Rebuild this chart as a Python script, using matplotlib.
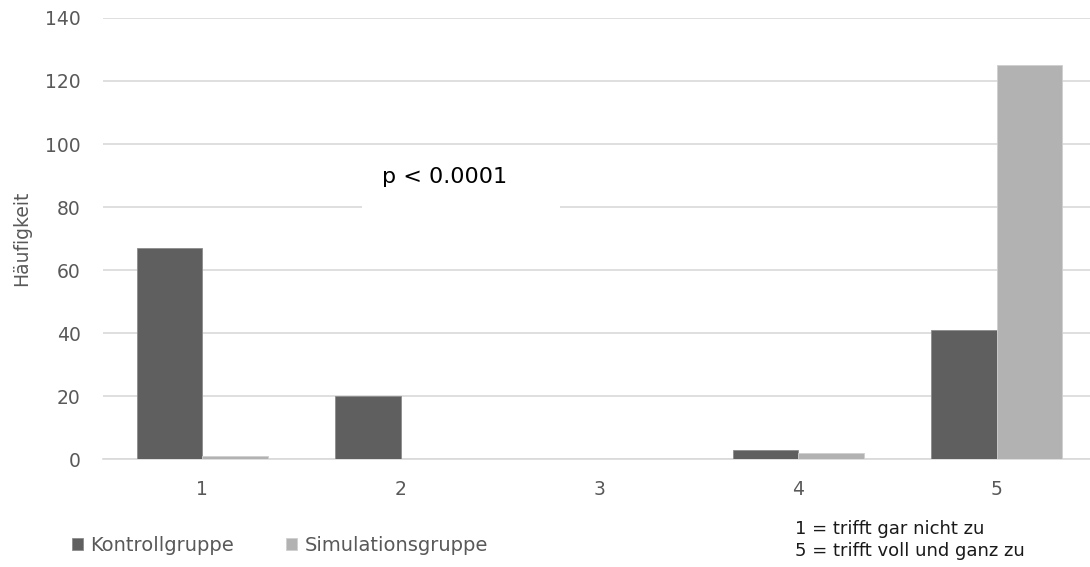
import matplotlib.pyplot as plt
from matplotlib.patches import Rectangle
import numpy as np

categories = ["1", "2", "3", "4", "5"]
kontroll = [67, 20, 0, 3, 41]
simulation = [1, 0, 0, 2, 125]

dark = "#5f5f5f"
light = "#b2b2b2"
grey_text = "#595959"

fig = plt.figure(figsize=(10.9, 5.67), dpi=100)
ax = fig.add_axes([0.0945, 0.1896, 0.9055, 0.779])

x = np.arange(len(categories))
w = 0.33
ax.bar(x - w / 2, kontroll, w, color=dark, edgecolor="#8c8c8c", linewidth=0.6,
       label="Kontrollgruppe", zorder=3)
ax.bar(x + w / 2, simulation, w, color=light, edgecolor="#cfcfcf", linewidth=0.6,
       label="Simulationsgruppe", zorder=3)

ax.set_xlim(-0.5, 4.47)
ax.set_ylim(0, 140)
ax.set_yticks(range(0, 141, 20))
ax.set_xticks(x)
ax.set_xticklabels(categories)
ax.grid(axis="y", color="#d9d9d9", linewidth=1.2, zorder=0)
for s in ["top", "right", "left"]:
    ax.spines[s].set_visible(False)
ax.spines["bottom"].set_color("#d9d9d9")
ax.spines["bottom"].set_linewidth(1.2)
ax.tick_params(length=0, labelsize=13.5, colors=grey_text)
ax.tick_params(axis="x", pad=15)
ax.tick_params(axis="y", pad=16)
ax.set_ylabel("Häufigkeit", fontsize=13.5, color=grey_text, va="center")
ax.yaxis.set_label_coords(-0.082, 0.5)

# white box behind the p-value label (hides the 80 gridline there)
ax.add_patch(Rectangle((0.805, 79.4), 0.997, 19.3, facecolor="white",
                       edgecolor="none", zorder=2))
ax.text(1.218, 89.5, "p < 0.0001", fontsize=16, color="black",
        ha="center", va="center", zorder=4)

fig.legend(*ax.get_legend_handles_labels(), loc="center left",
           bbox_to_anchor=(0.066, 0.0388), ncol=2, frameon=False,
           fontsize=14, labelcolor=grey_text, handlelength=0.57, handleheight=0.57,
           handletextpad=0.36, columnspacing=2.7, borderpad=0, borderaxespad=0)

fig.text(0.729, 0.0476, "1 = trifft gar nicht zu\n5 = trifft voll und ganz zu",
         fontsize=13, color="#1a1a1a", ha="left", va="center", linespacing=1.3)

fig.savefig("out.png", dpi=100)
